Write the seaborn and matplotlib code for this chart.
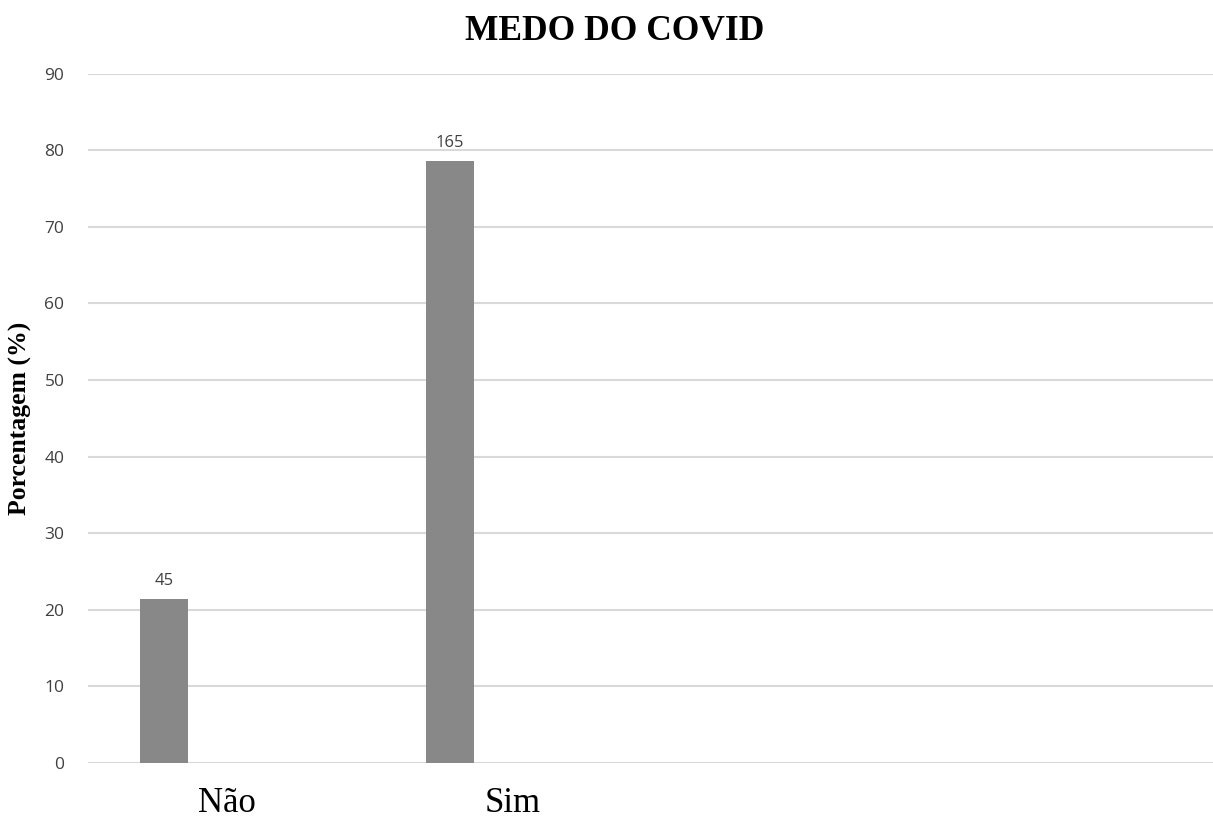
import numpy as np
import pandas as pd
import matplotlib
matplotlib.use("Agg")
import matplotlib.pyplot as plt
import seaborn as sns

# Respostas: contagens absolutas por categoria
categorias = ["Não", "Sim"]
contagens = [45, 165]
y_ticks = [0, 10, 20, 30, 40, 50, 60, 70, 80, 90]

total = sum(contagens)
percentuais = [c / total * 100 for c in contagens]

sns.set_theme(style="white")
plt.rcParams["font.family"] = ["DejaVu Sans"]

fig = plt.figure(figsize=(12.13, 8.18), dpi=100)
ax = fig.add_axes([88 / 1213, 55 / 818, 1 - 88 / 1213, 689.5 / 818])

# Barra deslocada para a esquerda dentro de cada grupo (primeira série do agrupamento)
desloc = -0.22
pos = np.arange(len(categorias))
df = pd.DataFrame({"pos": pos + desloc, "pct": percentuais, "n": contagens})

sns.barplot(data=df, x="pos", y="pct", native_scale=True, width=0.168,
            color="#888888", saturation=1, ax=ax, zorder=3, linewidth=0)

for p, v, n in zip(df["pos"], df["pct"], df["n"]):
    ax.annotate(str(n), xy=(p, v), xytext=(0, 7), textcoords="offset points",
                ha="center", va="bottom", fontsize=12, color="#404040",
                family="Open Sans")

ax.set_xlim(-0.486, 3.448)
ax.set_ylim(0, 90)
ax.set_yticks(y_ticks)
ax.set_yticklabels([str(t) for t in y_ticks], family="Open Sans", fontsize=12.5,
                   color="#404040")
ax.set_xticks(pos)
ax.set_xticklabels(categorias, family="Liberation Serif", fontsize=25,
                   color="#000000")
ax.tick_params(axis="y", length=0, pad=17)
ax.tick_params(axis="x", length=0, pad=17)

ax.yaxis.grid(True, color="#d9d9d9", linewidth=1.5, zorder=0)
ax.xaxis.grid(False)
for s in ax.spines.values():
    s.set_visible(False)

ax.set_xlabel("")
ax.set_ylabel("Porcentagem (%)", family="Liberation Serif", fontweight="bold",
              fontsize=18.5, color="#000000", labelpad=9)

fig.text(615 / 1213, 1 - 31 / 818, "MEDO DO COVID", family="Liberation Serif",
         fontweight="bold", fontsize=25.5, ha="center", va="center",
         color="#000000")

fig.savefig("out.png", dpi=100, facecolor="white")
